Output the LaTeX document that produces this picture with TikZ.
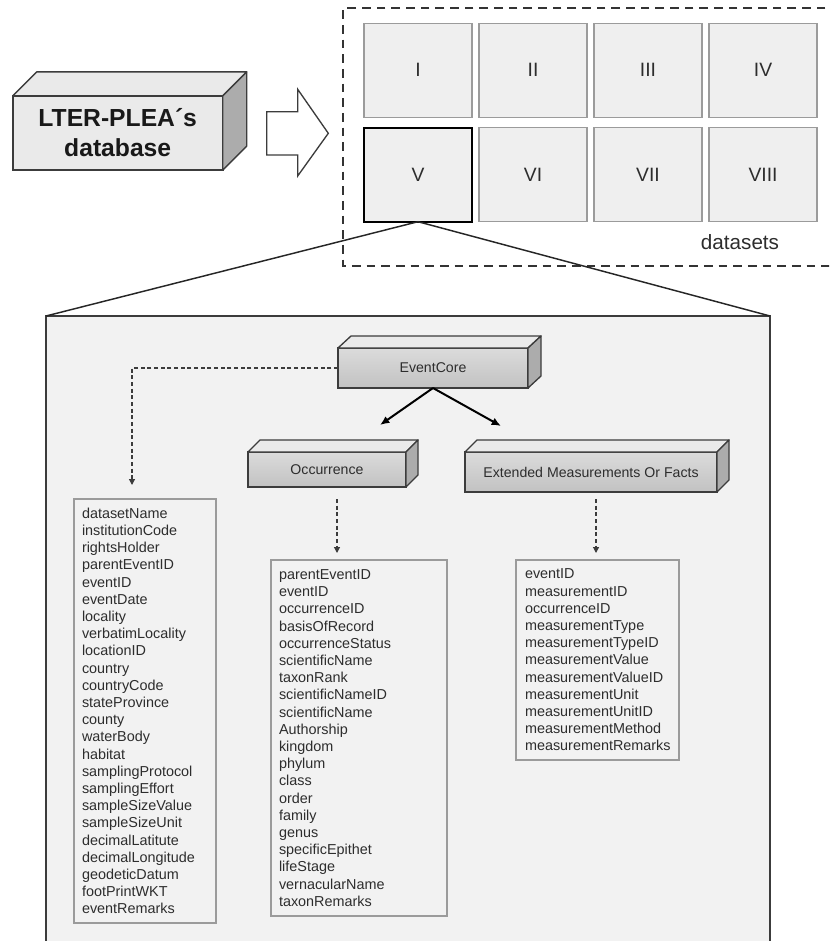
\documentclass[tikz,border=0pt]{standalone}
\usepackage{fontspec}
\setmainfont{Liberation Sans}
\usetikzlibrary{
  arrows.meta,
  calc
}
\definecolor{PanelGray}{RGB}{242,242,242}
\definecolor{CellGray}{RGB}{239,239,239}
\definecolor{EdgeGray}{RGB}{155,155,155}
\definecolor{InkGray}{RGB}{45,45,45}
\definecolor{FrameDark}{RGB}{60,60,60}
\definecolor{TopFace}{RGB}{234,234,234}
\definecolor{SideFace}{RGB}{172,172,172}
\tikzset{
  cellnode/.style={draw=EdgeGray,fill=CellGray,line width=0.8pt,outer sep=0pt,minimum width=81pt,minimum height=70.5pt,font=\fontsize{14.5}{17}\selectfont,text=InkGray},
  selframe/.style={draw=black,line width=1.6pt},
  setframe/.style={draw=black!80,line width=1.3pt,dash pattern=on 6.5pt off 4.5pt},
  dbfront/.style={draw=FrameDark,fill=TopFace,line width=1.3pt,outer sep=0pt,minimum width=157.5pt,minimum height=55.7pt,align=center,font=\bfseries\fontsize{18.5}{22.5}\selectfont,text=black!90},
  boxfront/.style={draw=FrameDark,top color=gray!28,middle color=gray!10,bottom color=gray!48,line width=1pt,outer sep=0pt,font=\fontsize{10.6}{12}\selectfont,text=InkGray},
  topface/.style={draw=FrameDark,fill=TopFace,line width=1pt,line join=round},
  sideface/.style={draw=FrameDark,fill=SideFace,line width=1pt,line join=round},
  blockarrow/.style={draw=FrameDark,fill=white,line width=1pt,line join=miter},
  zoomline/.style={draw=black!85,line width=1.1pt},
  panel/.style={draw=FrameDark,fill=PanelGray,line width=1.5pt,outer sep=0pt,minimum width=543pt,minimum height=501pt},
  listbox/.style={draw=EdgeGray,fill=PanelGray,line width=0.8pt,outer sep=0pt,inner xsep=6pt,inner ysep=3pt,align=left,font=\fontsize{10.8}{12.9}\selectfont,text=InkGray},
  mainarrow/.style={-{Latex[length=7pt,width=6pt]},line width=1.5pt,draw=black},
  dasharrow/.style={-{Triangle[length=4.5pt,width=4.5pt]},line width=0.9pt,draw=FrameDark,dash pattern=on 3pt off 2pt}
}

\begin{document}
\begin{tikzpicture}[x=0.75pt,y=-0.75pt]
\clip (0,0) rectangle (829,941);
% source database
\node[dbfront] (db) at (117.7,133) {LTER-PLEA´s\\database};
\draw[blockarrow] (266.7,111.7) -- (297.7,111.7) -- (297.7,89.3) -- (328.3,133.3) -- (297.7,176) -- (297.7,155) -- (266.7,155) -- cycle;
% datasets
\draw[setframe] (840,8.3) -- (343.3,8.3) -- (343.3,265.7) -- (840,265.7);
\foreach \lab/\cx/\cy [count=\i] in {I/418/70.3, II/533/70.3, III/648/70.3, IV/763/70.3,
    V/418/174.7, VI/533/174.7, VII/648/174.7, VIII/763/174.7}
  \node[cellnode] (d\i) at (\cx,\cy) {\lab};
\draw[selframe] (d5.south west) rectangle (d5.north east);
\node[font=\fontsize{15.5}{18}\selectfont,text=InkGray] (dslabel) at (740,242) {datasets};
% zoom into dataset V
\node[panel] (zoom) at (408,650) {};
\draw[zoomline] (d5.south) -- (zoom.north west);
\draw[zoomline] (d5.south) -- (zoom.north east);
% core and extensions
\node[boxfront, minimum width=142.5pt, minimum height=30pt] (ec) at (433,368) {EventCore};
\node[boxfront, minimum width=118.5pt, minimum height=26.25pt] (occ) at (327,469.5) {Occurrence};
\node[boxfront, minimum width=189pt, minimum height=30pt] (emof) at (591,472) {Extended Measurements Or Facts};
\foreach \n/\dx/\dy in {db/24/-24, ec/13/-12, occ/12/-12, emof/12/-12} {
  \draw[topface] (\n.north west) -- ++(\dx,\dy) -- ($(\n.north east)+(\dx,\dy)$) -- (\n.north east) -- cycle;
  \draw[sideface] (\n.north east) -- ++(\dx,\dy) -- ($(\n.south east)+(\dx,\dy)$) -- (\n.south east) -- cycle;
}
% term lists
\node[listbox, text width=94.5pt, minimum height=318pt] (evlist) at (145,711)
  {datasetName\\institutionCode\\rightsHolder\\parentEventID\\eventID\\eventDate\\locality\\verbatimLocality\\locationID\\country\\countryCode\\stateProvince\\county\\waterBody\\habitat\\samplingProtocol\\samplingEffort\\sampleSizeValue\\sampleSizeUnit\\decimalLatitute\\decimalLongitude\\geodeticDatum\\footPrintWKT\\eventRemarks};
\node[listbox, text width=120pt, minimum height=267pt] (occlist) at (359,738)
  {parentEventID\\eventID\\occurrenceID\\basisOfRecord\\occurrenceStatus\\scientificName\\taxonRank\\scientificNameID\\scientificName\\Authorship\\kingdom\\phylum\\class\\order\\family\\genus\\specificEpithet\\lifeStage\\vernacularName\\taxonRemarks};
\node[listbox, inner xsep=6.75pt, text width=108.75pt, minimum height=150pt] (emoflist) at (597.5,660)
  {eventID\\measurementID\\occurrenceID\\measurementType\\measurementTypeID\\measurementValue\\measurementValueID\\measurementUnit\\measurementUnitID\\measurementMethod\\measurementRemarks};
% connectors
\coordinate (occtip) at (380,425);
\coordinate (emoftip) at (501,426);
\draw[mainarrow] (ec.south) -- (occtip);
\draw[mainarrow] (ec.south) -- (emoftip);
\draw[dasharrow] (ec.west) -| ($(evlist.north)+(-13,-14)$);
\draw[dasharrow] ($(occ.south)+(10,12)$) -- ($(occlist.north)+(-22,-7)$);
\draw[dasharrow] ($(emof.south)+(5,7)$) -- ($(emoflist.north)+(-1.5,-7)$);
\end{tikzpicture}
\end{document}
